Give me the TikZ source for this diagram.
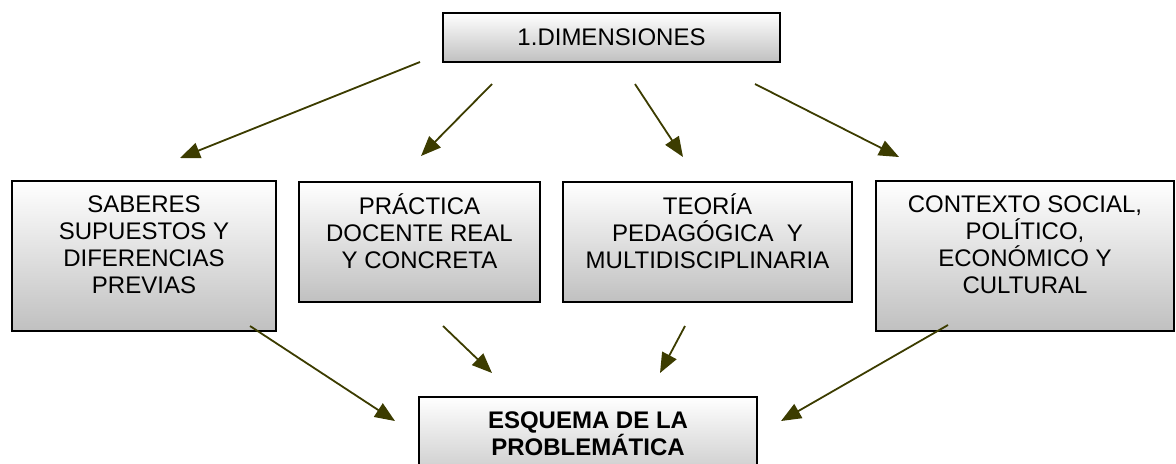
\documentclass[tikz,border=0pt]{standalone}
\usepackage{fontspec}
\setmainfont{Liberation Sans}
\usepackage{xcolor}
\usetikzlibrary{arrows.meta}
\definecolor{myolive}{RGB}{60,60,0}
\definecolor{mygray}{RGB}{192,192,192}

\tikzset{
dimbox/.style={draw, line width=0.9, top color=white, bottom color=mygray, align=center, inner sep=0,
  font=\fontsize{12}{13.5}\selectfont},
dimarrow/.style={-{Triangle[length=10pt,width=8pt]}, color=myolive, line width=0.9}
}

\begin{document}
\begin{tikzpicture}[x=0.5pt,y=-0.5pt]
\useasboundingbox (0,0) rectangle (1176,463);
\clip (0,0) rectangle (1176,463);

\node[dimbox, minimum width=168.5pt, minimum height=24.5pt] (dim) at (611.5,37.5) {1.DIMENSIONES};

\node[dimbox, minimum width=132pt, minimum height=75pt, text depth=11pt] (saberes) at (144,256)
  {SABERES\\SUPUESTOS Y\\DIFERENCIAS\\PREVIAS};
\node[dimbox, minimum width=120.5pt, minimum height=60pt, text depth=11pt] (practica) at (419.5,242)
  {PRÁCTICA\\DOCENTE REAL\\Y CONCRETA};
\node[dimbox, minimum width=144.5pt, minimum height=60pt, text depth=11pt] (teoria) at (707.5,242)
  {TEORÍA\\PEDAGÓGICA~~Y\\MULTIDISCIPLINARIA};
\node[dimbox, minimum width=149pt, minimum height=75pt, text depth=11pt] (contexto) at (1025,256)
  {CONTEXTO SOCIAL,\\POLÍTICO,\\ECONÓMICO Y\\CULTURAL};

\node[dimbox, minimum width=169pt, minimum height=47.5pt, text depth=11pt, font=\fontsize{12}{13.5}\selectfont\bfseries]
  (esquema) at (588,444.5) {ESQUEMA DE LA\\PROBLEMÁTICA};

% arrow ends
\coordinate (s1) at (420,62);  \coordinate (t1) at (180,158);
\coordinate (s2) at (492,84);  \coordinate (t2) at (421,156);
\coordinate (s3) at (635,84);  \coordinate (t3) at (683,157);
\coordinate (s4) at (755,84);  \coordinate (t4) at (899,157);
\coordinate (s5) at (250,326); \coordinate (t5) at (395,421);
\coordinate (s6) at (443,326); \coordinate (t6) at (492,373);
\coordinate (s7) at (685,326); \coordinate (t7) at (660,373);
\coordinate (s8) at (948,325); \coordinate (t8) at (781,421);

\foreach \i in {1,...,8}
  \draw[dimarrow] (s\i) -- (t\i);

\end{tikzpicture}
\end{document}
